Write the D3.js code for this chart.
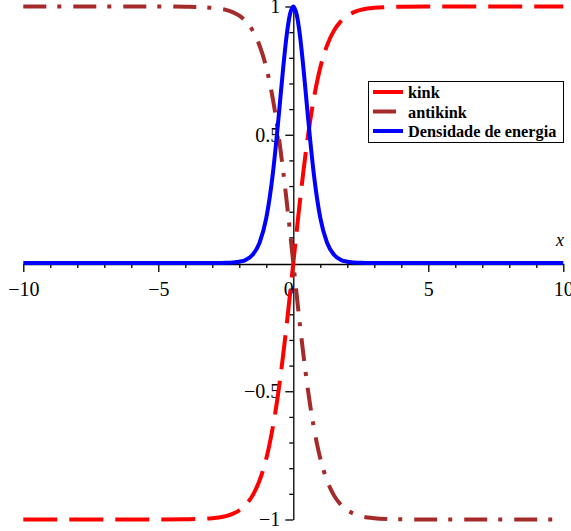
<!DOCTYPE html>
<html>
<head>
<meta charset="utf-8">
<script src="https://cdn.jsdelivr.net/npm/d3@7"></script>
<style>
body { margin: 0; background: #fff; }
.axis text { font-family: "Liberation Serif", "Times New Roman", serif; font-size: 20px; fill: #000; }
.axis line, .axis path { stroke: #000; stroke-width: 1.3; }
.legend text { font-family: "Liberation Serif", "Times New Roman", serif; font-size: 16.3px; font-weight: bold; }
</style>
</head>
<body>
<div id="chart"></div>
<script>

// sample points along x
var xValues = [-10, -8, -6, -5, -4, -3.5, -3, -2.75, -2.5, -2.25, -2, -1.75, -1.5, -1.25,
	-1, -0.875, -0.75, -0.625, -0.5, -0.375, -0.25, -0.125, 0,
	0.125, 0.25, 0.375, 0.5, 0.625, 0.75, 0.875, 1,
	1.25, 1.5, 1.75, 2, 2.25, 2.5, 2.75, 3, 3.5, 4, 5, 6, 8, 10];

// kink
var kinkValues = [-1, -1, -1, -1, -0.999, -0.998, -0.995, -0.992, -0.987, -0.978, -0.964, -0.941, -0.905, -0.848,
	-0.762, -0.704, -0.635, -0.555, -0.462, -0.358, -0.245, -0.124, 0,
	0.124, 0.245, 0.358, 0.462, 0.555, 0.635, 0.704, 0.762,
	0.848, 0.905, 0.941, 0.964, 0.978, 0.987, 0.992, 0.995, 0.998, 0.999, 1, 1, 1, 1];

// antikink (brown dash-dot curve)
var antikinkValues = [1, 1, 1, 1, 0.999, 0.998, 0.995, 0.992, 0.987, 0.978, 0.964, 0.941, 0.905, 0.848,
	0.762, 0.704, 0.635, 0.555, 0.462, 0.358, 0.245, 0.124, 0,
	-0.124, -0.245, -0.358, -0.462, -0.555, -0.635, -0.704, -0.762,
	-0.848, -0.905, -0.941, -0.964, -0.978, -0.987, -0.992, -0.995, -0.998, -0.999, -1, -1, -1, -1];

// energy density (blue solid curve)
var densityValues = [0, 0, 0, 0, 0, 0, 0.0001, 0.0003, 0.0007, 0.0019, 0.005, 0.013, 0.033, 0.079,
	0.176, 0.255, 0.356, 0.48, 0.619, 0.76, 0.884, 0.969, 1,
	0.969, 0.884, 0.76, 0.619, 0.48, 0.356, 0.255, 0.176,
	0.079, 0.033, 0.013, 0.005, 0.0019, 0.0007, 0.0003, 0.0001, 0, 0, 0, 0, 0, 0];

var xTickValues = [-10, -5, 0, 5, 10];
var yTickValues = [-1, -0.5, 0.5, 1];
var legendLabels = ["kink", "antikink", "Densidade de energia"];
var seriesColors = ["#ff0000", "#a52a2a", "#0000ff"];
var seriesDashes = ["34,12", "23,11,4,12", null];

var width = 571, height = 531;

var svg = d3.select("#chart").append("svg")
	.attr("width", width)
	.attr("height", height);

var xScale = d3.scaleLinear().domain([-10, 10]).range([23.3, 563.3]);
var yScale = d3.scaleLinear().domain([-1, 1]).range([519.5, 6.5]);

function fmt(d) { return String(d).replace("-", "\u2212"); }

/*
 *	AXES
 */
var xMinor = d3.range(-10, 11, 1).filter(function(d){ return d % 5 != 0; });
var yMinor = d3.range(-10, 11, 1).map(function(d){ return d / 10; })
	.filter(function(d){ return d != 0 && Math.abs(d) != 0.5 && Math.abs(d) != 1; });

var gx = svg.append("g")
	.attr("class", "x axis")
	.attr("transform", "translate(0," + (yScale(0) + 1) + ")");

gx.call(d3.axisBottom(xScale).tickValues(xTickValues).tickFormat(fmt)
	.tickSize(8).tickSizeOuter(0).tickPadding(10));
gx.selectAll(".tick text")
	.attr("dy", "0.71em")
	.attr("dx", function(d){ return d == 0 ? -5 : 0; });
gx.selectAll(".tick").filter(function(d){ return d == 0; }).select("line").remove();

var gxm = svg.append("g")
	.attr("class", "axis")
	.attr("transform", "translate(0," + (yScale(0) + 1) + ")");
gxm.call(d3.axisBottom(xScale).tickValues(xMinor).tickFormat("").tickSize(4).tickSizeOuter(0));
gxm.select(".domain").remove();

var gy = svg.append("g")
	.attr("class", "y axis")
	.attr("transform", "translate(" + xScale(0) + ",0)");
gy.call(d3.axisLeft(yScale).tickValues(yTickValues).tickFormat(fmt)
	.tickSize(8).tickSizeOuter(0).tickPadding(5));

var gym = svg.append("g")
	.attr("class", "axis")
	.attr("transform", "translate(" + xScale(0) + ",0)");
gym.call(d3.axisLeft(yScale).tickValues(yMinor).tickFormat("").tickSize(4).tickSizeOuter(0));
gym.select(".domain").remove();

// axis name
svg.append("text")
	.attr("x", 560)
	.attr("y", 246)
	.attr("text-anchor", "middle")
	.style("font-family", "Liberation Serif, serif")
	.style("font-style", "italic")
	.style("font-size", "18px")
	.text("x");

/*
 *	CURVES
 */
var series = [kinkValues, antikinkValues, densityValues];

var line = d3.line()
	.x(function(d){ return xScale(d[0]); })
	.y(function(d){ return yScale(d[1]); })
	.curve(d3.curveMonotoneX);

series.forEach(function(vals, i){
	var pts = xValues.map(function(x, j){ return [x, vals[j]]; });
	svg.append("path")
		.datum(pts)
		.attr("d", line)
		.attr("fill", "none")
		.attr("stroke", seriesColors[i])
		.attr("stroke-width", 4)
		.attr("stroke-dasharray", seriesDashes[i]);
});

/*
 *	LEGEND
 */
var legend = svg.append("g").attr("class", "legend");

legend.append("rect")
	.attr("x", 368.5).attr("y", 81.5)
	.attr("width", 195).attr("height", 61)
	.attr("fill", "#fff")
	.attr("stroke", "#000")
	.attr("stroke-width", 1);

legendLabels.forEach(function(label, i){
	var y = 92 + i * 19.5;
	legend.append("line")
		.attr("x1", 373).attr("x2", i == 1 ? 396 : 403)
		.attr("y1", y).attr("y2", y)
		.attr("stroke", seriesColors[i])
		.attr("stroke-width", 4);
	legend.append("text")
		.attr("x", 408)
		.attr("y", y + 6)
		.text(label);
});

</script>
</body>
</html>
